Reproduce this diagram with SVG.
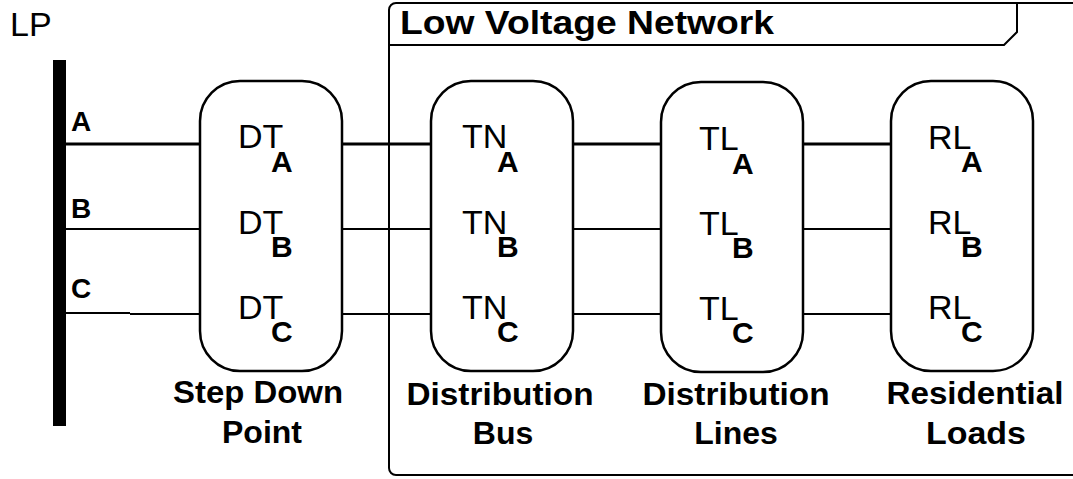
<svg xmlns="http://www.w3.org/2000/svg" width="1073" height="479" viewBox="0 0 1073 479">
<style>
.box{fill:#fff;stroke:#000;stroke-width:2.5}
.ln{stroke:#000;fill:none}
.t{font-family:"Liberation Sans",Arial,sans-serif;fill:#000}
.m{font-size:34px}
.s{font-size:30px;font-weight:bold}
.lab{font-size:32px;font-weight:bold;text-anchor:middle}
.ph{font-size:28px;font-weight:bold}
</style>
<rect width="1073" height="479" fill="#fff"/>
<g id="lv-network">
<rect x="389" y="3" width="700" height="472" rx="7" fill="none" stroke="#000" stroke-width="2"/>
<path d="M389,45 H1004 L1017,32 V3" fill="none" stroke="#000" stroke-width="2"/>
<text class="t" x="400" y="34" font-size="34" font-weight="bold" textLength="374" lengthAdjust="spacingAndGlyphs">Low Voltage Network</text>
</g>
<g id="lp">
<text class="t" x="10" y="36" font-size="34">LP</text>
<rect x="53" y="60" width="13" height="366" fill="#000"/>
<text class="t ph" x="71" y="131">A</text>
<text class="t ph" x="71" y="218">B</text>
<text class="t ph" x="71" y="298">C</text>
</g>
<g id="connectors">
<path class="ln" stroke-width="3" d="M66,144 H200 M342,144 H431 M566,144 H661 M794,144 H891"/>
<path class="ln" stroke-width="2" d="M66,229 H200 M342,229 H431 M566,229 H661 M794,229 H891"/>
<path class="ln" stroke-width="2" d="M66,313 H130 M130,314 H200 M342,314 H431 M566,314 H661 M794,314 H891"/>
</g>
<g id="step-down">
<rect class="box" x="200" y="81" width="142" height="290" rx="40"/>
<text class="t m" x="238" y="148">DT</text><text class="t s" x="271" y="172">A</text>
<text class="t m" x="238" y="234">DT</text><text class="t s" x="271" y="257">B</text>
<text class="t m" x="238" y="319">DT</text><text class="t s" x="271" y="342">C</text>
<text class="t lab" x="258" y="403" textLength="170" lengthAdjust="spacingAndGlyphs">Step Down</text>
<text class="t lab" x="262" y="443">Point</text>
</g>
<g id="dist-bus">
<rect class="box" x="431" y="81" width="142" height="290" rx="40"/>
<text class="t m" x="462" y="148">TN</text><text class="t s" x="497" y="172">A</text>
<text class="t m" x="462" y="234">TN</text><text class="t s" x="497" y="257">B</text>
<text class="t m" x="462" y="319">TN</text><text class="t s" x="497" y="342">C</text>
<text class="t lab" x="500" y="405" textLength="187" lengthAdjust="spacingAndGlyphs">Distribution</text>
<text class="t lab" x="503" y="444">Bus</text>
</g>
<g id="dist-lines">
<rect class="box" x="661" y="82" width="142" height="290" rx="40"/>
<text class="t m" x="699" y="150">TL</text><text class="t s" x="732" y="174">A</text>
<text class="t m" x="699" y="235">TL</text><text class="t s" x="732" y="258">B</text>
<text class="t m" x="699" y="320">TL</text><text class="t s" x="732" y="343">C</text>
<text class="t lab" x="736" y="405" textLength="187" lengthAdjust="spacingAndGlyphs">Distribution</text>
<text class="t lab" x="736" y="444">Lines</text>
</g>
<g id="residential">
<rect class="box" x="891" y="81" width="142" height="290" rx="40"/>
<text class="t m" x="928" y="149">RL</text><text class="t s" x="961" y="172">A</text>
<text class="t m" x="928" y="234">RL</text><text class="t s" x="961" y="257">B</text>
<text class="t m" x="928" y="319">RL</text><text class="t s" x="961" y="342">C</text>
<text class="t lab" x="975" y="404" textLength="177" lengthAdjust="spacingAndGlyphs">Residential</text>
<text class="t lab" x="976" y="444" textLength="100" lengthAdjust="spacingAndGlyphs">Loads</text>
</g>
</svg>
